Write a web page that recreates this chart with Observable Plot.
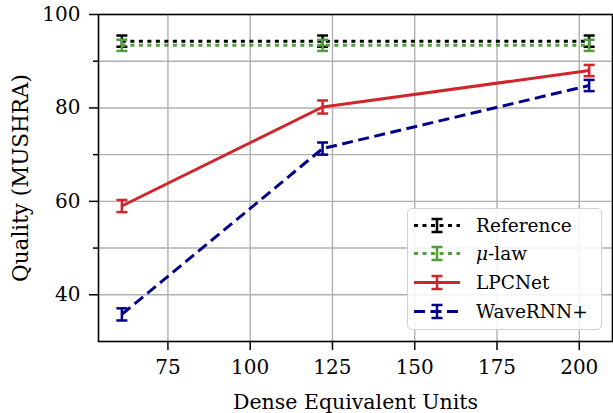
<!DOCTYPE html>
<html>
<head>
<meta charset="utf-8">
<script src="https://cdn.jsdelivr.net/npm/d3@7"></script>
<script src="https://cdn.jsdelivr.net/npm/@observablehq/plot@0.6"></script>
<style>
  html, body { margin: 0; padding: 0; background: #fff; }
  #wrap { position: relative; width: 613px; height: 413px; font-family: "DejaVu Serif", serif; }
  #legend { position: absolute; left: 407px; top: 208px; width: 193px; height: 120px;
    border: 1.5px solid #d0d0d0; border-radius: 5px; background: rgba(255,255,255,0.85); }
  .row { position: absolute; left: 0; height: 29px; display: flex; align-items: center; }
  .row span { font-size: 18.5px; color: #000; margin-left: 11px; }
</style>
</head>
<body>
<div id="wrap"></div>
<script>
// ---- data ----
const units = [61, 122, 203];
const seriesNames = ["Reference", "\u03bc-law", "LPCNet", "WaveRNN+"];
const refMean = [94.3, 94.3, 94.3];
const refErr = [1.2, 1.2, 1.2];
const muMean = [93.4, 93.4, 93.4];
const muErr = [1.2, 1.2, 1.2];
const lpcMean = [59.0, 80.2, 88.0];
const lpcErr = [1.3, 1.4, 1.2];
const wrnnMean = [35.8, 71.3, 84.8];
const wrnnErr = [1.3, 1.3, 1.2];
const xTicks = [75, 100, 125, 150, 175, 200];
const yMajor = [40, 60, 80, 100];
const yMinor = [50, 70, 90];
const yGrid = [40, 50, 60, 70, 80, 90];

const styles = [
  {color: "#000000", dash: "4,4.5"},
  {color: "#4fa03a", dash: "4,4.5"},
  {color: "#d0252a", dash: null},
  {color: "#00008b", dash: "11,5.5"}
];
const means = [refMean, muMean, lpcMean, wrnnMean];
const errs = [refErr, muErr, lpcErr, wrnnErr];

const cap = {draw(ctx, size) { const r = Math.sqrt(size / Math.PI); ctx.moveTo(-r, 0); ctx.lineTo(r, 0); }};

const seriesMarks = [];
seriesNames.forEach((name, i) => {
  const rows = units.map((u, j) => ({x: u, y: means[i][j], lo: means[i][j] - errs[i][j], hi: means[i][j] + errs[i][j]}));
  const st = styles[i];
  seriesMarks.push(Plot.line(rows, {x: "x", y: "y", stroke: st.color, strokeWidth: 3, strokeDasharray: st.dash, strokeLinecap: "butt"}));
  seriesMarks.push(Plot.ruleX(rows, {x: "x", y1: "lo", y2: "hi", stroke: st.color, strokeWidth: 2.5}));
  seriesMarks.push(Plot.dot(rows, {x: "x", y: "hi", symbol: cap, r: 5.5, fill: "none", stroke: st.color, strokeWidth: 2.5}));
  seriesMarks.push(Plot.dot(rows, {x: "x", y: "lo", symbol: cap, r: 5.5, fill: "none", stroke: st.color, strokeWidth: 2.5}));
});

const chart = Plot.plot({
  width: 613, height: 413,
  marginLeft: 98, marginRight: 1, marginTop: 14, marginBottom: 72,
  style: {fontFamily: "DejaVu Serif, serif", fontSize: "20px", color: "#000", background: "#fff"},
  x: {domain: [53.9, 210.1]},
  y: {domain: [30, 100]},
  marks: [
    Plot.gridX(xTicks, {stroke: "#b0b0b0", strokeOpacity: 1, strokeWidth: 1.4}),
    Plot.gridY(yGrid, {stroke: "#b0b0b0", strokeOpacity: 1, strokeWidth: 1.4}),
    Plot.axisX(xTicks, {tickSize: 9, tickPadding: 9, strokeWidth: 1.5, fontSize: 20, label: null}),
    Plot.axisX({ticks: [], label: "Dense Equivalent Units", labelAnchor: "center", labelArrow: "none", labelOffset: 67, fontSize: 20.5}),
    Plot.axisY(yMajor, {tickSize: 9, tickPadding: 9, strokeWidth: 1.5, fontSize: 20, label: null}),
    Plot.axisY({ticks: [], label: "Quality (MUSHRA)", labelAnchor: "center", labelArrow: "none", labelOffset: 86, fontSize: 21.5}),
    Plot.axisY(yMinor, {tickSize: 5, strokeWidth: 1.5, tickFormat: () => "", label: null}),
    ...seriesMarks,
    Plot.frame({stroke: "#000", strokeWidth: 1.6})
  ]
});

const wrap = document.getElementById("wrap");
wrap.appendChild(chart);

// legend
const legend = document.createElement("div");
legend.id = "legend";
wrap.appendChild(legend);
seriesNames.forEach((name, i) => {
  const st = styles[i];
  const row = document.createElement("div");
  row.className = "row";
  row.style.top = (1.5 + i * 28.8) + "px";
  const svg = d3.create("svg").attr("width", 52).attr("height", 29).style("margin-left", "5px");
  svg.append("line").attr("x1", 1).attr("x2", 47).attr("y1", 14.5).attr("y2", 14.5)
    .attr("stroke", st.color).attr("stroke-width", 3).attr("stroke-dasharray", st.dash);
  svg.append("line").attr("x1", 24).attr("x2", 24).attr("y1", 8).attr("y2", 21).attr("stroke", st.color).attr("stroke-width", 2.5);
  svg.append("line").attr("x1", 18.5).attr("x2", 29.5).attr("y1", 8).attr("y2", 8).attr("stroke", st.color).attr("stroke-width", 2.5);
  svg.append("line").attr("x1", 18.5).attr("x2", 29.5).attr("y1", 21).attr("y2", 21).attr("stroke", st.color).attr("stroke-width", 2.5);
  row.appendChild(svg.node());
  const sp = document.createElement("span");
  if (i === 1) { sp.innerHTML = "<i>\u03bc</i>-law"; } else { sp.textContent = name; }
  row.appendChild(sp);
  legend.appendChild(row);
});
</script>
</body>
</html>
